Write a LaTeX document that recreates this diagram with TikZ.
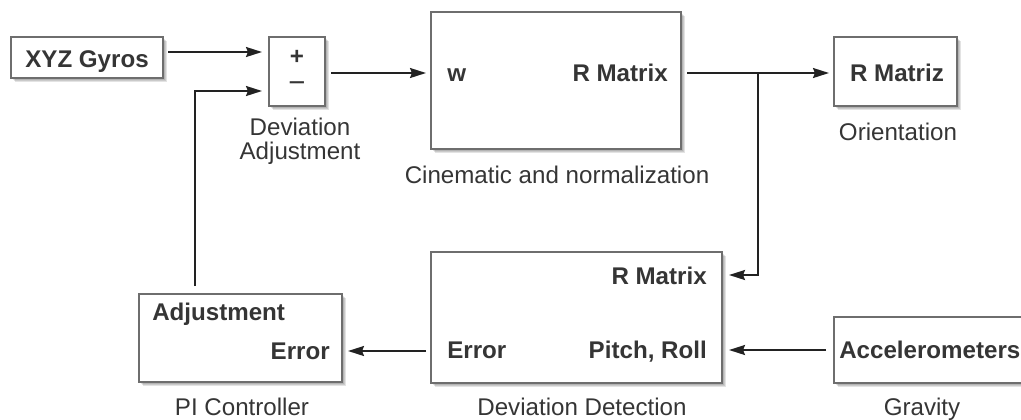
\documentclass[tikz,border=0pt]{standalone}
\usepackage{fontspec}
\setmainfont{Liberation Sans}
\usetikzlibrary{arrows.meta,shadows,calc}
\definecolor{txt}{HTML}{353535}
\definecolor{bord}{HTML}{6E6E6E}
\definecolor{wire}{HTML}{222222}
\begin{document}
\begin{tikzpicture}[x=0.75pt,y=-0.75pt,
  shd/.style={drop shadow={shadow xshift=#1, shadow yshift=-#1, opacity=0.11, fill=black}},
  blk/.style={draw=bord, line width=1.5pt, fill=white, inner sep=0pt,
    shd=1.2pt, shd=2.2pt, shd=3.2pt},
  bt/.style={font=\fontsize{18.1}{18}\selectfont\bfseries, text=txt, inner sep=0pt},
  lt/.style={font=\fontsize{18.1}{18}\selectfont, text=txt, inner sep=0pt, align=center},
  arr/.style={draw=wire, line width=1.5pt, -{Stealth[length=12pt,width=7.5pt,inset=1.5pt]}}]
\useasboundingbox (0,0) rectangle (1021,419);
\clip (0,0) rectangle (1021,419);
% blocks
\node[blk, minimum width=114pt, minimum height=30.75pt] (gyros) at (87,57.5) {};
\node[blk, minimum width=42pt, minimum height=51.75pt] (sum) at (297,71.5) {};
\node[blk, minimum width=187.5pt, minimum height=102.75pt] (cine) at (556,80.5) {};
\node[blk, minimum width=92.25pt, minimum height=51.75pt] (orient) at (895.5,71.5) {};
\node[blk, minimum width=218.25pt, minimum height=98.25pt] (dev) at (576.5,317.5) {};
\node[blk, minimum width=150pt, minimum height=49.5pt] (acc) at (934,350) {};
\node[blk, minimum width=152.25pt, minimum height=66pt] (pi) at (240.5,338) {};
% texts inside blocks
\node[bt, anchor=base] (tgyros) at (87,67) {XYZ Gyros};
\node[bt] (tplus) at (297,57) {+};
\node[bt, font=\fontsize{22}{22}\selectfont] (tminus) at (297,87) {−};
\node[bt, anchor=base west] (tw) at (447,81) {w};
\node[bt, anchor=base east] (tcr) at (668,81) {R Matrix};
\node[bt, anchor=base] (tor) at (897,81) {R Matriz};
\node[bt, anchor=base east] (tdr) at (707,284) {R Matrix};
\node[bt, anchor=base west] (tde) at (447,358) {Error};
\node[bt, anchor=base east] (tdp) at (707,358) {Pitch, Roll};
\node[bt, anchor=base west] (tacc) at (839,358) {Accelerometers};
\node[bt, anchor=base west] (tpa) at (152,320) {Adjustment};
\node[bt, anchor=base east] (tpe) at (330,359) {Error};
% captions
\node[lt, anchor=base] (lsum) at (300,159) {Deviation\\Adjustment};
\node[lt, anchor=base] (lcine) at (557,183) {Cinematic and normalization};
\node[lt, anchor=base] (lor) at (898,140) {Orientation};
\node[lt, anchor=base] (ldev) at (582,415) {Deviation Detection};
\node[lt, anchor=base] (lacc) at (922,415) {Gravity};
\node[lt, anchor=base] (lpi) at (242,415) {PI Controller};
% connectors
\draw[arr] ([shift={(4,-5.5)}]gyros.east) -- ([shift={(-6,-19.5)}]sum.west);
\draw[arr] ([shift={(-45.5,-7)}]pi.north) |- ([shift={(-6,19.5)}]sum.west);
\draw[arr] ([shift={(5,1.5)}]sum.east) -- ([shift={(-4,-7.5)}]cine.west);
\draw[arr] ([shift={(5,-7.5)}]cine.east) -- ([shift={(-4,1.5)}]orient.west);
\coordinate (br) at ([shift={(76,-7.5)}]cine.east);
\draw[arr] (br) |- ([shift={(6,-42.5)}]dev.east);
\draw[arr] ([shift={(-7,0)}]acc.west) -- ([shift={(6,32.5)}]dev.east);
\draw[arr] ([shift={(-4,33.5)}]dev.west) -- ([shift={(5,13)}]pi.east);
\end{tikzpicture}
\end{document}
